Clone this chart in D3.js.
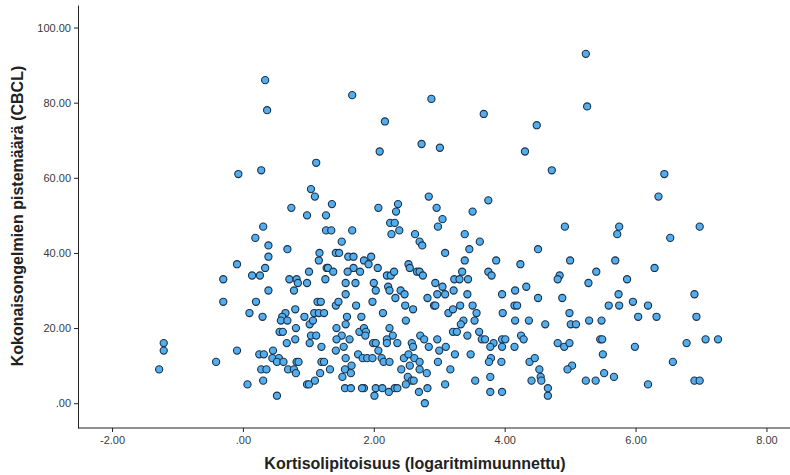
<!DOCTYPE html>
<html>
<head>
<meta charset="utf-8">
<script src="https://cdn.jsdelivr.net/npm/d3@7/dist/d3.min.js"></script>
<style>
  html, body { margin: 0; padding: 0; background: #fff; }
  svg { display: block; font-family: "Liberation Sans", Arial, sans-serif; }
</style>
</head>
<body>
<svg id="chart" width="790" height="475"></svg>
<script>
// Cortisol (log-transformed) per child
const kortisoli = [
  0.34, 0.37, 1.67, 2.17, 2.88, 2.73, 2.09, 1.12, 0.28, 5.24, 3.68, 5.26, 4.49, 3.01, 4.31, 4.72, -0.07, 6.44, 6.35, 6.98, 6.53, 6.29,
  1.04, 1.10, 1.36, 0.74, 0.98, 1.27, 0.31, 1.27, 1.35, 1.67, 0.19, 0.39, 0.68, 1.51, 1.17, 1.42, 1.47, 0.39, 1.61, 1.69, 1.16, -0.09,
  0.34, 1.28, 1.30, 1.69, 1.01, 1.38, 1.60, 1.79, -0.30, 0.14, 0.26, 0.71, 0.82, 0.84, 0.98, 1.26, 1.57, 1.72,
  2.84, 2.07, 2.37, 2.34, 2.96, 3.75, 3.51, 2.25, 2.32, 3.05, 2.98, 2.39, 2.27, 2.63, 3.39, 2.70, 2.74, 3.62, 3.46, 3.09, 1.96, 1.85,
  1.92, 3.39, 3.87, 2.53, 2.55, 2.06, 2.66, 2.70, 2.75, 2.20, 2.26, 2.31, 3.35, 3.75, 3.80, 3.23, 3.31, 3.44, 2.00, 2.22, 2.94, 3.05,
  4.92, 5.75, 5.72, 4.51, 4.24, 5.00, 5.69, 5.40, 4.84, 4.81, 5.87, 5.28, 4.33,
  0.39, 0.78, 1.57, -0.30, 0.20, 0.10, 0.30, 0.65, 0.60, 0.58, 0.68, 0.80, 0.94, 1.02, 1.07, 1.09, 1.16, 1.24, 1.14, 1.19, 1.42, 1.46,
  1.73, 1.59, 1.57, 1.43, 1.78, 1.51, 1.43, 1.63, 1.54, 1.42, 1.57, 1.76, 1.66, 1.56, 1.65, 1.52, 1.56, 1.65, 0.56, 0.61, 0.81, 0.67,
  0.80, 1.04, 1.12, 1.02, 1.20, -0.09, 0.25, 0.32, 0.46, 0.45, 0.55, 0.52, 0.62, 0.82, 0.85, 1.20, 1.24, 0.28, 0.36, 0.69, 0.78, 0.81,
  1.18, 1.33, 0.31, 0.07, 0.98, 1.01, 1.10, 0.52,
  -1.21, -1.21, -1.28, -0.41,
  2.03, 2.24, 2.41, 2.33, 2.47, 2.82, 2.97, 3.09, 3.22, 3.43, 1.98, 2.48, 2.60, 2.92, 2.94, 1.81, 2.14, 2.49, 3.14, 3.21, 3.32, 3.51,
  3.57, 3.54, 3.37, 3.33, 1.85, 1.88, 1.87, 2.24, 2.29, 2.20, 2.20, 1.99, 2.03, 2.36, 2.07, 2.71, 2.77, 2.97, 2.58, 2.60, 2.84, 3.00,
  3.10, 3.21, 3.27, 3.43, 3.61, 3.65, 3.70, 3.83, 3.78, 3.24, 3.48, 3.79, 3.76, 1.83, 1.90, 1.98, 2.12, 2.15, 2.24, 2.46, 2.53, 2.62,
  2.70, 2.55, 2.42, 2.70, 2.81, 2.98, 3.17, 2.52, 2.58, 2.61, 2.49, 3.09, 3.55, 3.78, 3.78, 1.85, 1.82, 2.03, 2.13, 2.23, 2.32, 2.36,
  2.01, 2.69, 2.82, 2.78,
  3.96, 4.16, 4.51, 4.88, 5.74, 4.15, 4.19, 5.59, 5.75, 5.96, 3.97, 4.99, 6.04, 4.16, 4.37, 4.62, 5.01, 5.09, 5.29, 5.48, 3.96, 4.01,
  3.96, 4.25, 4.29, 4.15, 4.81, 4.91, 4.99, 5.46, 5.49, 5.50, 5.99, 3.95, 4.38, 4.46, 4.53, 4.55, 4.56, 4.41, 4.66, 4.66, 5.03, 4.96,
  5.24, 5.39, 5.52, 5.67, 3.96,
  6.90, 6.19, 6.32, 6.93, 6.78, 7.07, 7.26, 6.57, 6.19, 6.90, 6.98
];

// Total problem score (CBCL) per child, same order
const cbcl = [
  86, 78, 82, 75, 81, 69, 67, 64, 62, 93, 77, 79, 74, 68, 67, 62, 61, 61, 55, 47, 44, 36,
  57, 55, 53, 52, 50, 50, 47, 46, 46, 46, 44, 42, 41, 43, 40, 40, 40, 39, 39, 39, 38, 37,
  36, 36, 36, 36, 35, 35, 35, 35, 33, 34, 34, 33, 33, 32, 32, 33, 32, 32,
  55, 52, 53, 51, 52, 54, 51, 48, 48, 49, 47, 46, 45, 45, 45, 43, 42, 43, 41, 40, 39, 38,
  37, 38, 38, 37, 36, 36, 35, 35, 34, 34, 34, 35, 35, 35, 34, 33, 33, 33, 32, 31, 32, 31,
  47, 47, 45, 41, 37, 38, 38, 35, 34, 33, 33, 32, 31,
  30, 30, 29, 27, 27, 24, 23, 24, 23, 22, 22, 25, 23, 21, 22, 24, 24, 24, 27, 27, 26, 27,
  26, 23, 21, 20, 19, 18, 17, 17, 15, 14, 12, 13, 10, 9, 8, 7, 4, 4, 19, 19, 20, 16,
  17, 18, 18, 16, 15, 14, 13, 13, 14, 12, 12, 11, 11, 11, 11, 11, 11, 9, 9, 9, 9, 8,
  8, 9, 6, 5, 5, 5, 6, 2,
  16, 14, 9, 11,
  30, 30, 30, 28, 29, 28, 29, 29, 30, 29, 27, 26, 25, 26, 26, 23, 24, 22, 24, 25, 26, 26,
  24, 22, 22, 21, 20, 19, 18, 20, 18, 17, 16, 16, 16, 16, 14, 18, 17, 17, 16, 15, 15, 14,
  15, 19, 19, 18, 19, 17, 17, 16, 15, 13, 13, 12, 11, 12, 12, 12, 12, 11, 11, 12, 13, 12,
  11, 10, 9, 9, 8, 11, 9, 7, 6, 6, 5, 5, 6, 7, 3, 4, 4, 4, 4, 3, 4, 4,
  2, 3, 4, 0,
  29, 30, 28, 28, 29, 26, 26, 26, 26, 27, 24, 24, 23, 22, 22, 21, 21, 21, 22, 22, 17, 17,
  15, 18, 17, 15, 16, 15, 16, 17, 17, 13, 15, 11, 11, 12, 9, 7, 6, 6, 4, 2, 10, 9,
  6, 6, 8, 7, 3,
  29, 26, 23, 23, 16, 17, 17, 11, 5, 6, 6
];

const xTicks = [-2, 0, 2, 4, 6, 8];
const xTickLabels = ["-2.00", ".00", "2.00", "4.00", "6.00", "8.00"];
const yTicks = [0, 20, 40, 60, 80, 100];
const yTickLabels = [".00", "20.00", "40.00", "60.00", "80.00", "100.00"];

const xTitle = "Kortisolipitoisuus (logaritmimuunnettu)";
const yTitle = "Kokonaisongelmien pistemäärä (CBCL)";

const svg = d3.select("#chart");
const plotLeft = 78, plotRight = 790, plotTop = 5, plotBottom = 428;

const x = d3.scaleLinear().domain([-2.52, 8.36]).range([plotLeft, plotRight]);
const y = d3.scaleLinear().domain([-6.6, 106]).range([plotBottom, plotTop]);

const points = kortisoli.map((v, i) => ({ x: v, y: cbcl[i] }));

// Axes
const xAxis = d3.axisBottom(x)
  .tickValues(xTicks)
  .tickFormat((d, i) => xTickLabels[i])
  .tickSizeInner(4).tickSizeOuter(0).tickPadding(4);
const yAxis = d3.axisLeft(y)
  .tickValues(yTicks)
  .tickFormat((d, i) => yTickLabels[i])
  .tickSizeInner(4).tickSizeOuter(0).tickPadding(3);

const gx = svg.append("g").attr("transform", `translate(0,${plotBottom})`).call(xAxis);
const gy = svg.append("g").attr("transform", `translate(${plotLeft},0)`).call(yAxis);

[gx, gy].forEach(g => {
  g.select(".domain").attr("stroke", "#222").attr("stroke-width", 1);
  g.selectAll(".tick line").attr("stroke", "#222");
  g.selectAll(".tick text").attr("fill", "#3a3a3a").style("font-size", "11px");
});
gx.select(".domain").attr("d", `M${plotLeft},0H${plotRight}`);

// Points
svg.append("g")
  .selectAll("circle")
  .data(points)
  .join("circle")
  .attr("cx", d => x(d.x))
  .attr("cy", d => y(d.y))
  .attr("r", 3.6)
  .attr("fill", "#52aeee")
  .attr("stroke", "#1c3146")
  .attr("stroke-width", 1.1);

// Axis titles
svg.append("text")
  .attr("x", 415).attr("y", 469)
  .attr("text-anchor", "middle")
  .style("font-size", "16px").style("font-weight", "bold").attr("fill", "#222")
  .text(xTitle);

svg.append("text")
  .attr("transform", `translate(23,${216}) rotate(-90)`)
  .attr("text-anchor", "middle")
  .style("font-size", "16px").style("font-weight", "bold").attr("fill", "#222")
  .text(yTitle);
</script>
</body>
</html>
